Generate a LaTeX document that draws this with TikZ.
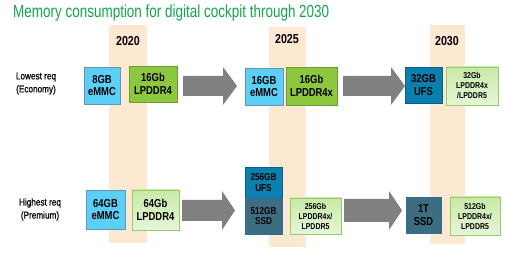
\documentclass[tikz,border=0pt]{standalone}
\usepackage{fontspec}
\setmainfont{Liberation Sans}
\newfontfamily\narrowfont[FakeStretch=0.82]{Liberation Sans}
\newfontfamily\rowfont[FakeStretch=0.82,FakeBold=0.6]{Liberation Sans}
\newfontfamily\titlefont[FakeStretch=0.77]{Liberation Sans}
\definecolor{titlegreen}{RGB}{20,165,80}
\definecolor{peach}{RGB}{253,232,210}
\definecolor{emmcfill}{RGB}{91,207,246}
\definecolor{emmcline}{RGB}{100,150,180}
\definecolor{lpfill}{RGB}{141,198,63}
\definecolor{lpline}{RGB}{105,160,45}
\definecolor{lgtop}{RGB}{200,234,168}
\definecolor{lgbot}{RGB}{230,245,216}
\definecolor{lgline}{RGB}{150,205,100}
\definecolor{ufsfill}{RGB}{11,128,174}
\definecolor{ufsline}{RGB}{10,95,135}
\definecolor{ssdfill}{RGB}{62,109,130}
\definecolor{ssdline}{RGB}{45,110,160}
\definecolor{arrowgray}{RGB}{128,128,128}
\tikzset{
  bigtxt/.style={font=\narrowfont\bfseries\fontsize{11.5}{12.5}\selectfont},
  midtxt/.style={font=\narrowfont\bfseries\fontsize{10}{10.5}\selectfont},
  smalltxt/.style={font=\narrowfont\bfseries\fontsize{8.5}{10}\selectfont},
  boxbase/.style={draw, line width=0.8pt, inner sep=0pt, align=center, text=black},
  emmcbox/.style={boxbase, fill=emmcfill, draw=emmcline, bigtxt},
  lpbox/.style={boxbase, fill=lpfill, draw=lpline, bigtxt},
  lgbox/.style={boxbase, top color=lgtop, bottom color=lgbot, draw=lgline},
  ufsbox/.style={boxbase, fill=ufsfill, draw=ufsline},
  ssdbox/.style={boxbase, fill=ssdfill, draw=ssdline},
  yearlbl/.style={font=\narrowfont\bfseries\fontsize{13}{14}\selectfont},
  rowlbl/.style={font=\rowfont\fontsize{10}{13}\selectfont, align=center},
  blockarrow/.style={fill=arrowgray},
  column/.style={fill=peach},
}
\begin{document}
\begin{tikzpicture}[x=1pt,y=-1pt]
\useasboundingbox (0,0) rectangle (507,253);
\fill[white] (0,0) rectangle (507,253);
% title
\node[anchor=base west, inner sep=0pt, text=titlegreen, font=\titlefont\fontsize{17.5}{20}\selectfont] (title) at (13,18) {Memory consumption for digital cockpit through 2030};
% columns
\fill[column] (109,25) rectangle (147,243);
\fill[column] (269,27) rectangle (306,247);
\fill[column] (430,25) rectangle (465,244);
% years
\node[yearlbl] (y2020) at (128,41) {2020};
\node[yearlbl] (y2025) at (287,39) {2025};
\node[yearlbl] (y2030) at (447,41) {2030};
% row labels
\node[rowlbl] (low) at (36,83.5) {Lowest req\\(Economy)};
\node[rowlbl] (high) at (40,209.5) {Highest req\\(Premium)};
% row 1
\node[emmcbox, minimum width=36pt, minimum height=37pt] (e1) at (102,85.5) {8GB\\eMMC};
\node[lpbox, minimum width=48pt, minimum height=36pt] (l1) at (153,84) {16Gb\\LPDDR4};
\node[emmcbox, minimum width=38pt, minimum height=37pt] (e2) at (264,86.5) {16GB\\eMMC};
\node[lpbox, minimum width=51pt, minimum height=38pt] (l2) at (311.5,86) {16Gb\\LPDDR4x};
\node[ufsbox, bigtxt, minimum width=37pt, minimum height=36pt] (u3) at (423.5,85) {32GB\\UFS};
\node[lgbox, smalltxt, minimum width=52pt, minimum height=38pt] (l3) at (472,86) {32Gb\\LPDDR4x\\/LPDDR5};
% row 2
\node[emmcbox, minimum width=39pt, minimum height=39pt] (e4) at (105.5,209.5) {64GB\\eMMC};
\node[lgbox, bigtxt, minimum width=47pt, minimum height=40pt] (l4) at (155.5,210) {64Gb\\LPDDR4};
\node[ufsbox, midtxt, minimum width=37pt, minimum height=31pt] (u5) at (263.5,182.5) {256GB\\UFS};
\node[ssdbox, midtxt, minimum width=37pt, minimum height=36pt] (s5) at (263.5,216) {512GB\\SSD};
\node[lgbox, smalltxt, minimum width=51pt, minimum height=36pt] (l5) at (315.5,216) {256Gb\\LPDDR4x/\\LPDDR5};
\node[ssdbox, bigtxt, minimum width=35pt, minimum height=36pt] (s6) at (423.5,215) {1T\\SSD};
\node[lgbox, smalltxt, minimum width=50pt, minimum height=38pt] (l6) at (475,216) {512Gb\\LPDDR4x/\\LPDDR5};
% block arrows
\fill[blockarrow] (183,76) -- (223,76) -- (223,67) -- (237,86) -- (223,105) -- (223,96) -- (183,96) -- cycle;
\fill[blockarrow] (343,76) -- (391,76) -- (391,67) -- (405,86) -- (391,105) -- (391,96) -- (343,96) -- cycle;
\fill[blockarrow] (182,200) -- (222,200) -- (222,191) -- (235,210.5) -- (222,230) -- (222,221) -- (182,221) -- cycle;
\fill[blockarrow] (344,199) -- (389,199) -- (389,191) -- (402,210.5) -- (389,230) -- (389,222) -- (344,222) -- cycle;
\end{tikzpicture}
\end{document}
